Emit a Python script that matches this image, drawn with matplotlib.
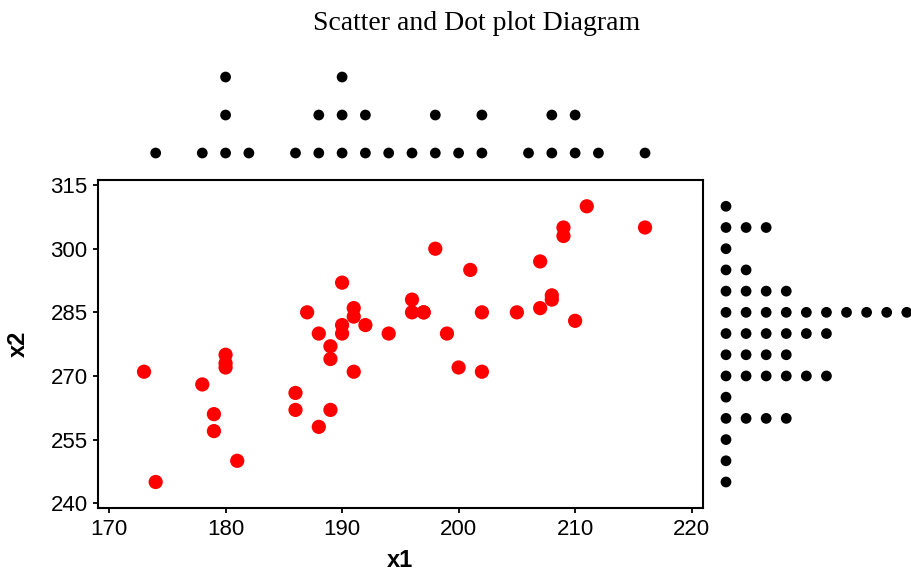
import numpy as np
import matplotlib
matplotlib.use("Agg")
import matplotlib.pyplot as plt

# scatter data
x1 = [173, 174, 178, 179, 179, 180, 180, 180, 181, 186, 186, 187, 188, 188, 189,
      189, 189, 190, 190, 190, 191, 191, 191, 192, 194, 196, 196, 197, 197, 198,
      199, 200, 201, 202, 202, 205, 207, 207, 208, 208, 209, 209, 210, 211, 216]
x2 = [271, 245, 268, 261, 257, 275, 273, 272, 250, 266, 262, 285, 280, 258, 277,
      274, 262, 292, 282, 280, 286, 284, 271, 282, 280, 288, 285, 285, 285, 300,
      280, 272, 295, 285, 271, 285, 297, 286, 289, 288, 305, 303, 283, 310, 305]

# dot plot along the top (x1 bins) and the right (x2 bins)
top_bins = [174, 178, 180, 182, 186, 188, 190, 192, 194, 196, 198, 200, 202, 206, 208, 210, 212, 216]
top_counts = [1, 1, 3, 1, 1, 2, 3, 2, 1, 1, 2, 1, 2, 1, 2, 2, 1, 1]
right_bins = [310, 305, 300, 295, 290, 285, 280, 275, 270, 265, 260, 255, 250, 245]
right_counts = [1, 3, 1, 2, 4, 10, 6, 4, 6, 1, 4, 1, 1, 1]

x_ticks = [170, 180, 190, 200, 210, 220]
y_ticks = [240, 255, 270, 285, 300, 315]

W, H = 912, 573
fig = plt.figure(figsize=(W / 100, H / 100), dpi=100, facecolor="white")

# pixel boxes -> figure fractions
L, R, T, B = 98, 702.7, 180, 508.3
ax = fig.add_axes([L / W, (H - B) / H, (R - L) / W, (B - T) / H])
ax_top = fig.add_axes([L / W, (H - 170) / H, (R - L) / W, 110 / H], sharex=ax)
ax_right = fig.add_axes([703 / W, (H - B) / H, 209 / W, (B - T) / H], sharey=ax)

# --- main scatter
ax.scatter(x1, x2, s=105, color="#ff0000", edgecolors="none", zorder=3)
ax.set_xlim(169.05, 220.95)
ax.set_ylim(238.8, 316.2)
ax.set_xticks(x_ticks)
ax.set_yticks(y_ticks)
ax.tick_params(direction="out", length=3.5, width=1.3, labelsize=16, pad=4)
for lab in ax.get_xticklabels() + ax.get_yticklabels():
    lab.set_fontfamily("Liberation Sans")
for sp in ax.spines.values():
    sp.set_linewidth(1.5)
ax.set_xlabel("x1", fontsize=17, fontweight="bold", family="Liberation Sans", labelpad=7)
ax.set_ylabel("x2", fontsize=17, fontweight="bold", family="Liberation Sans", labelpad=15)

# --- top dot plot (x1)
tx = np.repeat(top_bins, top_counts)
ty = np.concatenate([np.arange(1, n + 1) for n in top_counts])
ax_top.scatter(tx, ty, s=60, color="black", edgecolors="none", clip_on=False)
ax_top.set_ylim(0.553, 3.448)
ax_top.axis("off")

# --- right dot plot (x2)
ry = np.repeat(right_bins, right_counts)
rx = np.concatenate([np.arange(1, n + 1) for n in right_counts])
ax_right.scatter(rx, ry, s=60, color="black", edgecolors="none", clip_on=False)
ax_right.set_xlim(-0.145, 10.26)
ax_right.axis("off")

fig.text(0.5227, 1 - 11 / H, "Scatter and Dot plot Diagram", ha="center", va="top",
         fontsize=20, family="Liberation Serif")

fig.savefig("out.png", dpi=100, facecolor="white")
